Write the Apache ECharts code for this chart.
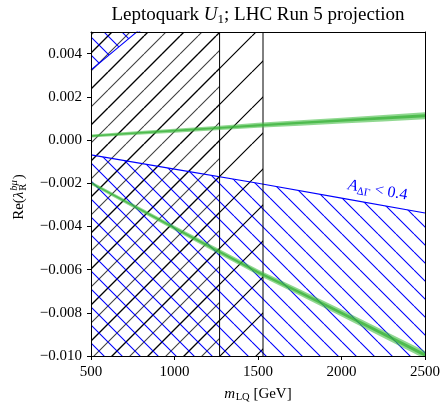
<!DOCTYPE html>
<html>
<head>
<meta charset="utf-8">
<script src="https://cdn.jsdelivr.net/npm/echarts@6/dist/echarts.min.js"></script>
<style>
  html, body { margin: 0; padding: 0; background: #fff; }
  #chart { width: 443px; height: 403px; }
</style>
</head>
<body>
<div id="chart"></div>
<script>
// Leptoquark mass grid (GeV)
const massGeV = [500, 750, 1000, 1250, 1500, 1750, 2000, 2250, 2500];
// Projected allowed band, upper branch: central value and full width
const upperBandCenter = [0.000185, 0.00031, 0.00043, 0.00055, 0.00068, 0.00079, 0.00090, 0.00101, 0.00112];
const upperBandWidth  = [0.00014, 0.00016, 0.00018, 0.00020, 0.00023, 0.00025, 0.00027, 0.00030, 0.00032];
// Projected allowed band, lower branch
const lowerBandCenter = [-0.00199, -0.00303, -0.00407, -0.00510, -0.00612, -0.00705, -0.00801, -0.00898, -0.00995];
const lowerBandWidth  = [0.00016, 0.00019, 0.00021, 0.00024, 0.00026, 0.00029, 0.00032, 0.00034, 0.00037];
// A_ΔΓ < 0.4 boundaries
const adgLowerMass = [500, 1000, 1500, 2000, 2500];
const adgLowerEdge = [-0.00069, -0.00135, -0.00200, -0.00269, -0.00338];
const adgUpperMass = [500, 640, 800];
const adgUpperEdge = [0.00324, 0.00414, 0.00517];
// Direct-search exclusions in mass (GeV)
const excludedStrong = [500, 1270];
const excludedWeak = [500, 1530];
// Axis ticks and range
const xTicks = [500, 1000, 1500, 2000, 2500];
const yTicks = [-0.010, -0.008, -0.006, -0.004, -0.002, 0.000, 0.002, 0.004];
const yMin = -0.010, yMax = 0.005;
// Annotation anchor (mass, coupling)
const adgLabelAnchor = [2216, -0.00233];

const SERIF = '"Liberation Serif", "Times New Roman", serif';
const BLUE = '#0000ff';

// Tile of parallel 45° lines used as a hatch fill
function hatch(size, color, width, dir) {
  const c = document.createElement('canvas');
  c.width = size; c.height = size;
  const g = c.getContext('2d');
  g.strokeStyle = color;
  g.lineWidth = width;
  g.beginPath();
  for (let k = -1; k <= 1; k++) {
    if (dir === '/') { g.moveTo(k * size, size); g.lineTo(k * size + size, 0); }
    else { g.moveTo(k * size, 0); g.lineTo(k * size + size, size); }
  }
  g.stroke();
  return { image: c, repeat: 'repeat' };
}

const hatchWeak = hatch(36, '#000', 1.2, '/');
const hatchStrong = hatch(18, 'rgba(0,0,0,0.75)', 1.1, '/');
const hatchBlue = hatch(18, BLUE, 1.1, '\\');

function bandRows(center, width, frac) {
  return massGeV.map((m, i) => [m, center[i] - width[i] * frac, center[i] + width[i] * frac]);
}

function bandRenderer(fill, n) {
  return function (params, api) {
    if (params.dataIndex !== 0) return null;
    const top = [], bottom = [];
    for (let i = 0; i < n; i++) {
      const m = api.value(0, i);
      top.push(api.coord([m, api.value(2, i)]));
      bottom.push(api.coord([m, api.value(1, i)]));
    }
    return { type: 'polygon', shape: { points: top.concat(bottom.reverse()) }, style: { fill: fill } };
  };
}

function bandSeries(center, width, frac, fill, z) {
  return {
    type: 'custom', clip: true, z: z, silent: true,
    encode: { x: 0, y: [1, 2] },
    data: bandRows(center, width, frac),
    renderItem: bandRenderer(fill, massGeV.length)
  };
}

function edgeLine(m) {
  return {
    type: 'line', z: 4, showSymbol: false, silent: true,
    data: [[m, yMin], [m, yMax]],
    lineStyle: { color: '#000', width: 1 }
  };
}

function yFmt(v) {
  const s = Math.abs(v).toFixed(3);
  return v < -1e-12 ? '\u2212' + s : s;
}

const chart = echarts.init(document.getElementById('chart'), null, { renderer: 'canvas' });

const axisLineStyle = { show: true, onZero: false, lineStyle: { color: '#000', width: 1 } };

chart.setOption({
  animation: false,
  backgroundColor: '#fff',
  grid: { left: 91, right: 17, top: 32, bottom: 47 },
  xAxis: [{
    type: 'value', min: 500, max: 2500, interval: 500, position: 'bottom', z: 10,
    axisLine: axisLineStyle,
    axisTick: { show: true, inside: false, length: 4, lineStyle: { color: '#000' }, customValues: xTicks },
    axisLabel: { color: '#000', fontFamily: SERIF, fontSize: 15, margin: 9, customValues: xTicks, formatter: v => String(v) },
    splitLine: { show: false }
  }, {
    type: 'value', min: 500, max: 2500, position: 'top', z: 10,
    axisLine: axisLineStyle, axisTick: { show: false }, axisLabel: { show: false }, splitLine: { show: false }
  }],
  yAxis: [{
    type: 'value', min: yMin, max: yMax, position: 'left', z: 10,
    axisLine: axisLineStyle,
    axisTick: { show: true, inside: false, length: 4, lineStyle: { color: '#000' }, customValues: yTicks },
    axisLabel: { color: '#000', fontFamily: SERIF, fontSize: 15, margin: 9, customValues: yTicks, formatter: yFmt },
    splitLine: { show: false }
  }, {
    type: 'value', min: yMin, max: yMax, position: 'right', z: 10,
    axisLine: axisLineStyle, axisTick: { show: false }, axisLabel: { show: false }, splitLine: { show: false }
  }],
  series: [
    // direct-search exclusion regions
    {
      type: 'line', z: 1, showSymbol: false, silent: true,
      data: excludedWeak.map(m => [m, yMax]),
      lineStyle: { opacity: 0 },
      areaStyle: { origin: 'start', color: hatchWeak, opacity: 1 }
    },
    {
      type: 'line', z: 1, showSymbol: false, silent: true,
      data: excludedStrong.map(m => [m, yMax]),
      lineStyle: { opacity: 0 },
      areaStyle: { origin: 'start', color: hatchStrong, opacity: 1 }
    },
    edgeLine(excludedStrong[1]),
    edgeLine(excludedWeak[1]),
    // A_ΔΓ exclusions
    {
      type: 'line', z: 3, showSymbol: false, silent: true,
      data: adgLowerMass.map((m, i) => [m, adgLowerEdge[i]]),
      lineStyle: { color: BLUE, width: 1.1 },
      areaStyle: { origin: 'start', color: hatchBlue, opacity: 1 }
    },
    {
      type: 'line', z: 3, showSymbol: false, silent: true,
      data: adgUpperMass.map((m, i) => [m, adgUpperEdge[i]]),
      lineStyle: { color: BLUE, width: 1.1 },
      areaStyle: { origin: 'end', color: hatchBlue, opacity: 1 }
    },
    // projected allowed bands
    bandSeries(upperBandCenter, upperBandWidth, 0.5, 'rgba(70,190,70,0.6)', 5),
    bandSeries(upperBandCenter, upperBandWidth, 0.22, 'rgba(50,175,50,0.7)', 6),
    bandSeries(lowerBandCenter, lowerBandWidth, 0.5, 'rgba(70,190,70,0.6)', 5),
    bandSeries(lowerBandCenter, lowerBandWidth, 0.22, 'rgba(50,175,50,0.7)', 6)
  ]
});

// Text layout helpers
const measureCtx = document.createElement('canvas').getContext('2d');
function textWidth(text, font) { measureCtx.font = font; return measureCtx.measureText(text).width; }

const toPx = p => chart.convertToPixel({ gridIndex: 0 }, p);
const centerX = toPx([(xTicks[0] + xTicks[xTicks.length - 1]) / 2, yMax])[0];

// y-axis title: Re(λ_R^{bμ})
const fMain = '15px ' + SERIF, fMainIt = 'italic 15px ' + SERIF;
const fSmall = '10.5px ' + SERIF, fSmallIt = 'italic 10.5px ' + SERIF;
const wRe = textWidth('Re(', fMain);
const wLam = textWidth('λ', fMainIt);
const wScr = Math.max(textWidth('bμ', fSmallIt), textWidth('R', fSmall));
const wClose = textWidth(')', fMain);
const yTitleW = wRe + wLam + 1 + wScr + 1 + wClose;
const y0 = -yTitleW / 2;
const txt = (text, x, y, font) => ({
  type: 'text', silent: true,
  style: { text: text, x: x, y: y, font: font, fill: '#000', align: 'left', verticalAlign: 'middle' }
});

// x-axis title: m_LQ [GeV]
const wM = textWidth('m', fMainIt), wLQ = textWidth('LQ', fSmall), wGeV = textWidth(' [GeV]', fMain);
const xTitleW = wM + wLQ + 0.5 + wGeV;
const x0 = centerX - xTitleW / 2;

// annotation angle follows the lower A_ΔΓ boundary
const pA = toPx([adgLowerMass[0], adgLowerEdge[0]]);
const pB = toPx([adgLowerMass[adgLowerMass.length - 1], adgLowerEdge[adgLowerEdge.length - 1]]);
const ang = Math.atan2(pB[1] - pA[1], pB[0] - pA[0]);
const annPx = toPx(adgLabelAnchor);

chart.setOption({
  graphic: [
    {
      type: 'text', silent: true,
      style: {
        text: 'Leptoquark {u|U}{s|1}; LHC Run 5 projection',
        x: centerX, y: 15, align: 'center', verticalAlign: 'middle',
        fontFamily: SERIF, fontSize: 19, fill: '#000', lineHeight: 22,
        rich: {
          u: { fontFamily: SERIF, fontSize: 19, fontStyle: 'italic', lineHeight: 22 },
          s: { fontFamily: SERIF, fontSize: 13, lineHeight: 11, verticalAlign: 'bottom' }
        }
      }
    },
    {
      type: 'group', x: 19, y: 197, rotation: Math.PI / 2,
      children: [
        txt('Re(', y0, 0, fMain),
        txt('λ', y0 + wRe, 0, fMainIt),
        txt('bμ', y0 + wRe + wLam + 1, -5, fSmallIt),
        txt('R', y0 + wRe + wLam + 1, 4.5, fSmall),
        txt(')', y0 + wRe + wLam + 1 + wScr + 1, 0, fMain)
      ]
    },
    txt('m', x0, 394, fMainIt),
    txt('LQ', x0 + wM + 0.5, 397.5, fSmall),
    txt(' [GeV]', x0 + wM + 0.5 + wLQ, 394, fMain),
    {
      type: 'text', silent: true, x: annPx[0], y: annPx[1], rotation: -ang,
      style: {
        text: '{a|A}{s|ΔΓ}{t| < 0.4}',
        x: 0, y: 0, align: 'center', verticalAlign: 'middle',
        fill: BLUE, fontFamily: SERIF, fontSize: 16, lineHeight: 20,
        rich: {
          a: { fontFamily: SERIF, fontSize: 16, fontStyle: 'italic', fill: BLUE, lineHeight: 20 },
          s: { fontFamily: SERIF, fontSize: 11, fill: BLUE, lineHeight: 11, verticalAlign: 'bottom' },
          t: { fontFamily: SERIF, fontSize: 16, fill: BLUE, lineHeight: 20 }
        }
      }
    }
  ]
});
</script>
</body>
</html>
